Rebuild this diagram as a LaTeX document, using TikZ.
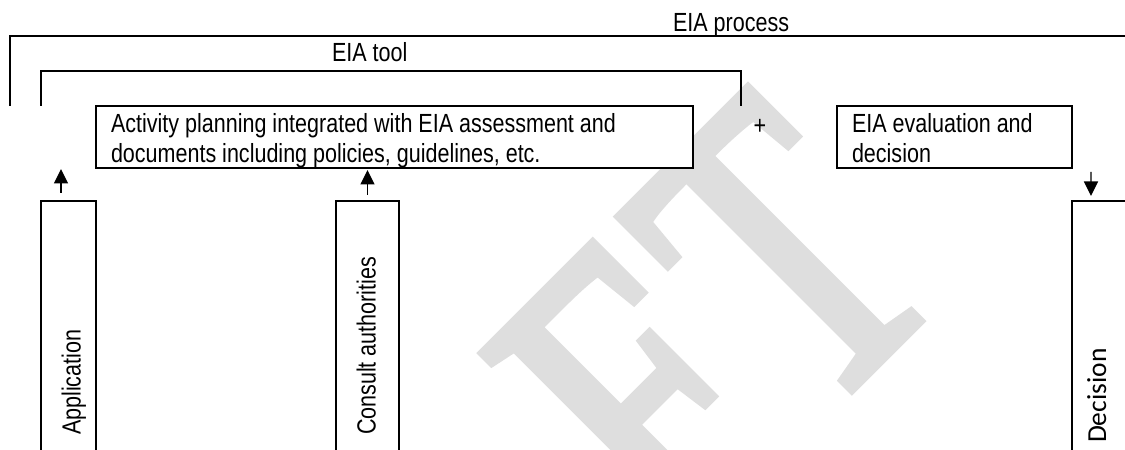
\documentclass[tikz,border=0pt]{standalone}
\usepackage{fontspec}
\setmainfont[FakeStretch=0.82]{Liberation Sans}
\newfontfamily\decfont{Carlito}
\newfontfamily\wmfont[FakeStretch=0.72,FakeBold=2.5]{Liberation Serif}
\usetikzlibrary{arrows.meta}
\begin{document}
\begin{tikzpicture}[x=0.4pt,y=-0.4pt,line width=0.55pt,
  box/.style={draw,line width=0.55pt,inner sep=0pt,outer sep=0pt,anchor=north west},
  lbl/.style={inner sep=0pt,outer sep=0pt,font=\fontsize{10.5}{12}\selectfont},
  arr/.style={-{Triangle[length=5.8pt,width=5.6pt]},line width=0.55pt},
  wm/.style={rotate=45,anchor=base west,inner sep=0pt,outer sep=0pt,text=black!13,font=\wmfont\fontsize{174}{174}\selectfont}]
\useasboundingbox (0,0) rectangle (1125,450);
\clip (0,0) rectangle (1125,450);
% watermark
\node[wm] (wmark) at (679,561) {F\kern9pt T};
% brackets
\draw (10,106) -- (10,36) -- (1130,36);
\draw (41,106) -- (41,71) -- (741,71) -- (741,106);
\node[lbl,anchor=base west] (procT) at (673,32) {EIA process};
\node[lbl,anchor=base west] (toolT) at (332,62) {EIA tool};
% boxes
\node[box,fill=white,minimum width=238.8pt,minimum height=24.8pt] (main) at (96,106) {};
\node[lbl,anchor=north west,align=left] (mainT) at (111,113.2) {Activity planning integrated with EIA assessment and\\documents including policies, guidelines, etc.};
\node[lbl] (plus) at (760,127) {+};
\node[box,fill=white,minimum width=94pt,minimum height=24.8pt] (eval) at (837,106) {};
\node[lbl,anchor=north west,align=left] (evalT) at (852,113.2) {EIA evaluation and\\decision};
\node[box,minimum width=22pt,minimum height=107.6pt] (app) at (41,201) {};
\node[lbl,rotate=90,anchor=base west] (appT) at (80.5,435) {Application};
\node[box,minimum width=25.2pt,minimum height=107.6pt] (cons) at (336,201) {};
\node[lbl,rotate=90,anchor=base west] (consT) at (375.5,435) {Consult authorities};
\node[box,minimum width=27.2pt,minimum height=107.6pt] (dec) at (1072,201) {};
\node[lbl,rotate=90,anchor=base west,font=\decfont\fontsize{11}{13}\selectfont] (decT) at (1106,443) {Decision};
% arrows
\coordinate (appOut) at ([xshift=-3pt,yshift=3.2pt]app.north);
\coordinate (appIn) at ([xshift=-3pt,yshift=12.8pt]app.north);
\draw[arr] (appOut) -- (appIn);
\draw[arr] ([yshift=2.4pt]cons.north) -- ([yshift=-0.8pt]cons.north |- main.south);
\coordinate (decOut) at ([xshift=7.6pt,yshift=-1.6pt]eval.south east);
\coordinate (decIn) at ([xshift=7.6pt,yshift=2pt]dec.north west);
\draw[arr] (decOut) -- (decIn);
\end{tikzpicture}
\end{document}
